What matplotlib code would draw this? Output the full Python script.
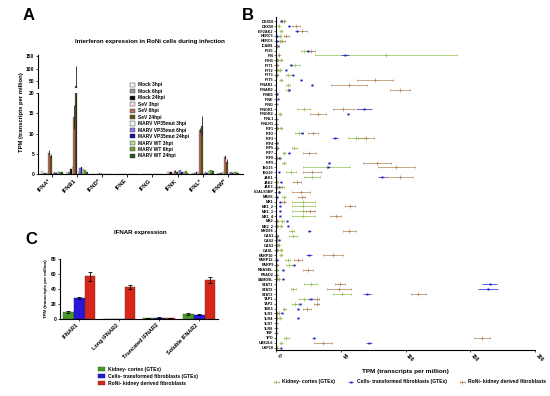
import matplotlib.pyplot as plt
import numpy as np
from matplotlib.patches import Patch

plt.rcParams['font.family'] = ['Liberation Sans', 'DejaVu Sans']
plt.rcParams['font.weight'] = 'bold'
plt.rcParams['axes.linewidth'] = 0.8

W, H = 550, 396


def rect(x0, y0, x1, y1):
    # pixel box (top-left origin) -> figure fraction
    return [x0 / W, 1 - y1 / H, (x1 - x0) / W, (y1 - y0) / H]


# ---------------- Panel A data ----------------
ifn_groups = ['IFNA*', 'IFNB1', 'IFND*', 'IFNE', 'IFNG', 'IFNK', 'IFNL*', 'IFNW*']
conditions = ['Mock 3hpi', 'Mock 6hpi', 'Mock 24hpi', 'SeV 3hpi', 'SeV 6hpi', 'SeV 24hpi',
              'MARV VP35mut 3hpi', 'MARV VP35mut 6hpi', 'MARV VP35mut 24hpi',
              'MARV WT 3hpi', 'MARV WT 6hpi', 'MARV WT 24hpi']
cond_colors = ['#f4f4f4', '#9a9a9a', '#111111', '#f6e4dc', '#b87060', '#5c5418',
               '#e6f4f4', '#8a7ae0', '#1010a0', '#b8d8a0', '#6aa830', '#2e5a1a']

mock_3 = [0.8, 0.5, 0.1, 0.0, 0.1, 0.4, 0.3, 0.3]
mock_6 = [0.3, 0.4, 0.1, 0.0, 0.0, 0.5, 0.2, 0.2]
mock_24 = [0.2, 1.3, 0.0, 0.0, 0.0, 0.6, 0.4, 0.2]
sev_3 = [0.3, 1.8, 0.1, 0.0, 0.1, 0.3, 0.5, 0.4]
sev_6 = [5.3, 14.0, 0.2, 0.0, 0.1, 0.7, 10.8, 4.2]
sev_24 = [4.4, 30.0, 0.1, 0.0, 0.0, 0.4, 11.8, 3.0]
vp35_3 = [0.3, 0.6, 0.0, 0.0, 0.0, 0.8, 0.3, 0.3]
vp35_6 = [0.4, 1.5, 0.1, 0.0, 0.0, 1.0, 0.4, 0.4]
vp35_24 = [0.2, 1.8, 0.0, 0.0, 0.0, 0.6, 0.3, 0.2]
wt_3 = [0.6, 1.2, 0.0, 0.0, 0.1, 0.5, 0.8, 0.6]
wt_6 = [0.5, 1.0, 0.1, 0.0, 0.0, 0.7, 1.0, 0.4]
wt_24 = [0.4, 0.6, 0.0, 0.0, 0.0, 0.3, 0.7, 0.3]
sev_6_err = [0.6, 3.0, 0.1, 0.0, 0.0, 0.2, 0.6, 0.4]
sev_24_err = [0.5, 80.0, 0.1, 0.0, 0.0, 0.2, 2.5, 0.6]

cond_values = [mock_3, mock_6, mock_24, sev_3, sev_6, sev_24,
               vp35_3, vp35_6, vp35_24, wt_3, wt_6, wt_24]
cond_errs = [None, None, None, None, sev_6_err, sev_24_err,
             None, None, None, None, None, None]

# ---------------- Panel C data ----------------
ifnar_labels = ['IFNAR1', 'Long IFNAR2', 'Truncated IFNAR2', 'Soluble IFNAR2']
kidney_c = [9, 0, 1, 7]
kidney_c_err = [1.5, 0, 0.3, 1.0]
fibro_c = [28, 0, 2, 6]
fibro_c_err = [1.0, 0, 0.3, 0.5]
roni_c = [57, 43, 1, 52]
roni_c_err = [6, 3, 0.3, 4]

# ---------------- Panel B data ----------------
genes = ['DDX58', 'DHX58', 'EIF2AK2', 'HERC5', 'HERC6', 'ICAM1', 'IFI35', 'IFI6', 'IFIH1',
         'IFIT1', 'IFIT2', 'IFIT3', 'IFIT5', 'IFNAR1', 'IFNAR2', 'IFNB1', 'IFNE', 'IFNG',
         'IFNGR1', 'IFNGR2', 'IFNL1', 'IFNLR1', 'IRF1', 'IRF2', 'IRF3', 'IRF4', 'IRF5',
         'IRF7', 'IRF8', 'IRF9', 'ISG15', 'ISG20', 'JAK1', 'JAK2', 'JAK3', 'LGALS3BP',
         'MAVS', 'MX1', 'MX1_2', 'MX1_3', 'MX1_4', 'MX2', 'MX2_2', 'MYD88', 'OAS1', 'OAS2',
         'OAS3', 'OASL', 'PARP10', 'PARP12', 'PARP9', 'RNASEL', 'RSAD2', 'SAMD9L', 'STAT1',
         'STAT2', 'STAT3', 'TAP1', 'TAP2', 'TBK1', 'TLR3', 'TLR4', 'TLR7', 'TLR8', 'TNF',
         'TPO', 'UBE2L6', 'USP18']
kidney_b = [5, 2, 4, 3, 3, 0.5, 22, 85, 4, 14.7, 3, 9.5, 4, 9.5, 9, 0.3, 0.2, 0,
            21.6, 3, 0, 0.2, 4, 18, 61.8, 0.3, 14, 6.2, 3, 6, 39, 11.6, 27.8, 1, 5, 2,
            6, 21, 21, 21, 21, 5, 4, 12, 13.3, 1, 2, 4, 4, 9, 10, 1, 0.7, 2, 27,
            13.4, 50.7, 21.6, 14.7, 6.5, 2, 3, 0, 0, 0, 8, 4, 0.5]
kidney_b_err = [1, 0.5, 1, 1, 1, 0.2, 3, 55, 1, 4, 0.5, 2, 1, 1.5, 1.5, 0.1, 0.1, 0,
                5, 1, 0, 0.1, 1, 3, 6, 0.1, 2, 1, 0.5, 1, 18, 4, 6, 0.3, 1.5, 0.5,
                1, 9, 9, 9, 9, 1, 1, 2, 3, 0.3, 0.5, 1, 1, 2, 2, 0.3, 0.2, 0.5, 5,
                2, 7, 4, 2, 1, 0.5, 1, 0, 0, 0, 2, 1, 0.2]
fibro_b = [4, 10, 16, 0.5, 1, 1.7, 25, 53, 0.5, 11.6, 7.5, 13, 19.3, 27.8, 10, 0.5, 1.5, 0,
           68, 55.6, 0, 0.2, 1, 20, 45.5, 0.5, 0.5, 10, 2, 41, 40, 2, 82, 3.5, 2.5, 2,
           0.5, 3, 3, 3, 3, 8.8, 9, 25.7, 1, 2.5, 0.5, 0.5, 25.5, 0.5, 14, 5.4, 0.3, 5.4, 165,
           163.8, 70, 26.8, 18.5, 17, 4.9, 17, 0, 0, 0, 29, 71.8, 3.5]
fibro_b_err = [0.5, 0.5, 1, 0.2, 0.2, 0.3, 2, 3, 0.1, 1, 0.5, 0.5, 0.5, 0.5, 0.5, 0.1, 0.2, 0,
               6, 1, 0, 0.1, 0.2, 1, 2, 0.1, 0.1, 0.5, 0.3, 1, 1.5, 0.3, 3, 0.3, 0.3, 0.3,
               0.1, 0.3, 0.3, 0.3, 0.3, 0.5, 0.5, 1, 0.2, 0.3, 0.1, 0.1, 2, 0.1, 1, 0.5, 0.1, 0.5, 6,
               8, 3, 2, 1, 1, 0.3, 1, 0, 0, 0, 1, 2, 0.3]
roni_b = [6, 15.5, 20, 8, 5, 0.5, 27, 2, 1, 1, 1, 1, 76.5, 56.5, 95.8, 0.3, 0, 0,
          52, 32.4, 0, 0, 0.5, 28.6, 69.5, 0, 1, 25.7, 0.5, 78, 93, 27.8, 96, 16, 0.5, 19,
          19.7, 6, 57, 26, 46, 1, 1, 56.5, 1, 0.5, 0.5, 0.5, 44, 17, 1, 24.5, 0, 0.5, 49.4,
          48.6, 110, 31.4, 31.4, 24, 0.5, 0.5, 0, 0, 0, 159, 36.5, 0.5]
roni_b_err = [1, 3, 4, 2, 2, 0.2, 3, 0.5, 0.3, 0.3, 0.3, 0.3, 14, 14, 8, 0.1, 0, 0,
              8, 6, 0, 0, 0.2, 4, 6, 0, 0.3, 5, 0.2, 11, 14, 7, 10, 3, 0.2, 7,
              3, 1, 4, 3, 4, 0.3, 0.3, 5, 0.3, 0.2, 0.2, 0.2, 8, 3, 0.3, 4, 0, 0.2, 4,
              9, 6, 2, 2, 3, 0.2, 0.2, 0, 0, 0, 6, 7, 0.2]

fig = plt.figure(figsize=(5.5, 3.96), dpi=100)

# ================= Panel A: broken y axis =================
ax_lo = fig.add_axes(rect(38, 93, 243, 174))
ax_hi = fig.add_axes(rect(38, 55, 243, 88))
n_cond = len(conditions)
bw = 0.072
x = np.arange(len(ifn_groups))
for ax in (ax_lo, ax_hi):
    for i in range(n_cond):
        off = (i - (n_cond - 1) / 2) * bw
        err = cond_errs[i]
        ax.bar(x + off, cond_values[i], bw, color=cond_colors[i], edgecolor='#222222',
               linewidth=0.15, yerr=err, error_kw=dict(elinewidth=0.6, ecolor='#222222', capsize=0),
               label=conditions[i])
    ax.set_xlim(-0.55, len(ifn_groups) - 0.4)
    ax.spines['top'].set_visible(False)
    ax.spines['right'].set_visible(False)
    ax.tick_params(axis='y', labelsize=3.6, length=1.5, width=0.5, pad=1)

ax_lo.set_ylim(0, 20)
ax_lo.set_yticks([0, 5, 10, 15, 20])
ax_lo.set_xticks(x)
ax_lo.set_xticklabels(ifn_groups, rotation=45, ha='right', fontsize=4.2, fontweight='bold')
ax_lo.tick_params(axis='x', length=2, width=0.6, pad=1)
ax_hi.set_ylim(22, 155)
ax_hi.set_yticks([50, 100, 150])
ax_hi.set_xticks([])
ax_hi.spines['bottom'].set_visible(False)
fig.text(22 / W, 1 - 112 / H, 'TPM (transcripts per million)', rotation=90,
         ha='center', va='center', fontsize=4.2, fontweight='bold')
fig.text(150 / W, 1 - 42 / H, 'Interferon expression in RoNi cells during infection',
         ha='center', va='center', fontsize=4.4, fontweight='bold')
handles_a = [Patch(facecolor=c, edgecolor='#333333', linewidth=0.3) for c in cond_colors]
fig.legend(handles_a, conditions, loc='upper left', bbox_to_anchor=(128 / W, 1 - 80 / H),
           frameon=False, fontsize=3.5, handlelength=1.0, handleheight=0.9,
           labelspacing=0.3, handletextpad=0.5, borderpad=0)

# ================= Panel C =================
ax_c = fig.add_axes(rect(60, 259, 218, 319))
xc = np.arange(len(ifnar_labels))
cw = 0.27
ax_c.bar(xc - cw, kidney_c, cw, yerr=kidney_c_err, color='#4a9a2a', edgecolor='#2e6a18',
         linewidth=0.3, error_kw=dict(elinewidth=0.6, capsize=1.2, capthick=0.6),
         label='Kidney- cortex (GTEx)')
ax_c.bar(xc, fibro_c, cw, yerr=fibro_c_err, color='#2a18d8', edgecolor='#12108a',
         linewidth=0.3, error_kw=dict(elinewidth=0.6, capsize=1.2, capthick=0.6),
         label='Cells- transformed fibroblasts (GTEx)')
ax_c.bar(xc + cw, roni_c, cw, yerr=roni_c_err, color='#d8261a', edgecolor='#7a2a12',
         linewidth=0.3, error_kw=dict(elinewidth=0.6, capsize=1.2, capthick=0.6),
         label='RoNi- kidney derived fibroblasts')
ax_c.set_xlim(-0.48, 3.47)
ax_c.set_ylim(0, 80)
ax_c.set_yticks([0, 20, 40, 60, 80])
ax_c.set_xticks(xc)
ax_c.set_xticklabels(ifnar_labels, rotation=45, ha='right', fontsize=4.0, fontweight='bold')
ax_c.tick_params(axis='y', labelsize=3.6, length=1.5, width=0.5, pad=1)
ax_c.tick_params(axis='x', length=1.5, width=0.5, pad=1)
ax_c.spines['top'].set_visible(False)
ax_c.spines['right'].set_visible(False)
ax_c.set_ylabel('TPM (transcripts per million)', fontsize=3.2, fontweight='bold', labelpad=2)
fig.text(140 / W, 1 - 233 / H, 'IFNAR expression', ha='center', va='center',
         fontsize=4.4, fontweight='bold')
fig.legend(*ax_c.get_legend_handles_labels(), loc='upper left',
           bbox_to_anchor=(95 / W, 1 - 364 / H), frameon=False, fontsize=3.6,
           handlelength=1.4, handleheight=0.9, labelspacing=0.45, borderpad=0)

# ================= Panel B =================
ax_b = fig.add_axes(rect(276, 17, 535, 350))
yb = np.arange(len(genes))
ekw = dict(ls='none', elinewidth=0.5, capsize=1.0, capthick=0.5)
ax_b.errorbar(kidney_b, yb, xerr=kidney_b_err, fmt='+', color='#92c050', ms=2.2, mew=0.5,
              label='Kidney- cortex (GTEx)', **ekw)
ax_b.errorbar(fibro_b, yb, xerr=fibro_b_err, fmt='s', color='#1a1acc', ms=1.4, mew=0,
              label='Cells- transformed fibroblasts (GTEx)', **ekw)
ax_b.errorbar(roni_b, yb, xerr=roni_b_err, fmt='+', color='#b0845a', ms=2.2, mew=0.5,
              label='RoNi- kidney derived fibroblasts', **ekw)
ax_b.set_ylim(len(genes) - 0.5, -0.9)
ax_b.set_xlim(0, 200)
ax_b.set_yticks(yb)
ax_b.set_yticklabels(genes, fontsize=2.7, fontweight='bold')
ax_b.set_xticks([0, 50, 100, 150, 200])
ax_b.tick_params(axis='y', length=1.2, width=0.4, pad=0.5)
ax_b.tick_params(axis='x', labelsize=3.6, length=1.5, width=0.5, pad=1, labelrotation=-45)
for lbl in ax_b.get_xticklabels():
    lbl.set_ha('left')
ax_b.spines['top'].set_visible(False)
ax_b.spines['right'].set_visible(False)
ax_b.set_xlabel('TPM (transcripts per million)', fontsize=4.6, fontweight='bold', labelpad=4)
fig.legend(*ax_b.get_legend_handles_labels(), loc='center', ncol=3,
           bbox_to_anchor=(410 / W, 1 - 382 / H), frameon=False, fontsize=3.6,
           handlelength=1.0, columnspacing=2.5, borderpad=0)

# panel letters
fig.text(23 / W, 1 - 16 / H, 'A', fontsize=12, fontweight='bold', va='center')
fig.text(242 / W, 1 - 16 / H, 'B', fontsize=12, fontweight='bold', va='center')
fig.text(25 / W, 1 - 240 / H, 'C', fontsize=12, fontweight='bold', va='center')

fig.savefig('out.png', dpi=100)
